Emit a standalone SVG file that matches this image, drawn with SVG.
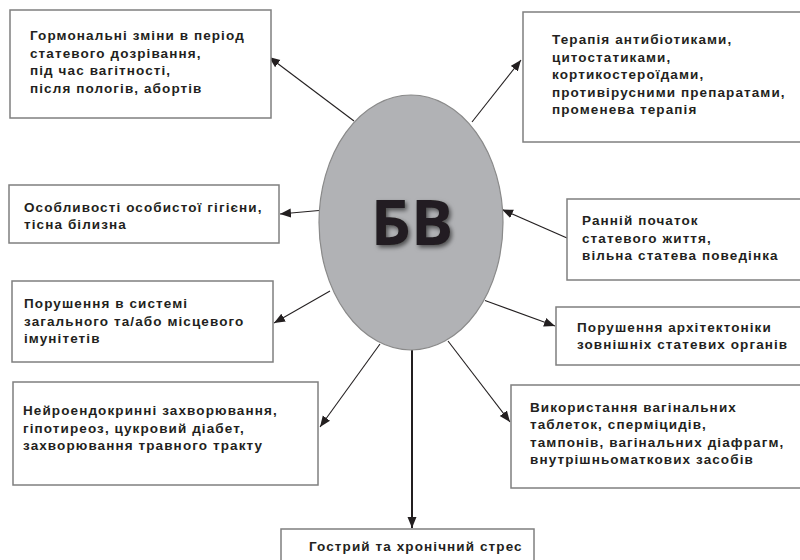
<svg xmlns="http://www.w3.org/2000/svg" width="800" height="560" viewBox="0 0 800 560">
<defs>
<style>
.box{fill:#fff;stroke:#7f7f7f;stroke-width:1.5}
.t{font-family:"Liberation Sans",Arial,sans-serif;font-weight:bold;font-size:13.5px;letter-spacing:1.1px;fill:#231f20}
.c{stroke:#231f20;stroke-width:1.1;fill:none;marker-end:url(#ah)}
</style>
<marker id="ah" markerUnits="userSpaceOnUse" markerWidth="12" markerHeight="10" refX="11" refY="4.5" orient="auto">
<path d="M0,0 L11,4.5 L0,9 z" fill="#231f20"/>
</marker>
<filter id="sh" x="-20%" y="-20%" width="150%" height="150%">
<feDropShadow dx="2" dy="2.5" stdDeviation="2" flood-color="#000" flood-opacity="0.55"/>
</filter>
</defs>
<rect width="800" height="560" fill="#fff"/>
<g id="connectors">
<line class="c" x1="354" y1="121" x2="269" y2="57"/>
<line class="c" x1="472" y1="122" x2="521" y2="60"/>
<line class="c" x1="319" y1="210.5" x2="280" y2="214"/>
<line class="c" x1="330" y1="291" x2="274" y2="323"/>
<line class="c" x1="380" y1="344" x2="320" y2="427"/>
<line class="c" x1="412" y1="350" x2="412" y2="528" style="stroke-width:2"/>
<line class="c" x1="567" y1="238" x2="502" y2="209.5"/>
<line class="c" x1="485" y1="300.5" x2="555" y2="326"/>
<line class="c" x1="448" y1="341" x2="510" y2="422"/>
</g>
<g id="center">
<ellipse cx="411" cy="222.5" rx="92" ry="127.5" fill="#b1b2b5" stroke="#8a8a8a" stroke-width="1.2"/>
<text x="412" y="245" text-anchor="middle" font-family="'Open Sans','Noto Sans',sans-serif" font-weight="bold" font-size="63" fill="#231f20" filter="url(#sh)">БВ</text>
</g>
<g id="n1">
<rect class="box" x="10" y="10" width="261" height="108"/>
<text class="t"><tspan x="30" y="40">Гормональні зміни в період</tspan><tspan x="30" y="57.7">статевого дозрівання,</tspan><tspan x="30" y="75.3">під час вагітності,</tspan><tspan x="30" y="93">після пологів, абортів</tspan></text>
</g>
<g id="n2">
<rect class="box" x="523" y="12" width="280" height="130"/>
<text class="t"><tspan x="552" y="44.3">Терапія антибіотиками,</tspan><tspan x="552" y="61.8">цитостатиками,</tspan><tspan x="552" y="79.3">кортикостероїдами,</tspan><tspan x="552" y="96.8">противірусними препаратами,</tspan><tspan x="552" y="114.3">променева терапія</tspan></text>
</g>
<g id="n3">
<rect class="box" x="9" y="185" width="270" height="58"/>
<text class="t"><tspan x="24" y="212">Особливості особистої гігієни,</tspan><tspan x="24" y="229">тісна білизна</tspan></text>
</g>
<g id="n4">
<rect class="box" x="12" y="281" width="261" height="81"/>
<text class="t"><tspan x="24" y="308.3">Порушення в системі</tspan><tspan x="24" y="325.7">загального та/або місцевого</tspan><tspan x="24" y="343">імунітетів</tspan></text>
</g>
<g id="n5">
<rect class="box" x="13" y="382" width="305" height="103"/>
<text class="t"><tspan x="23" y="415">Нейроендокринні захворювання,</tspan><tspan x="23" y="432.7">гіпотиреоз, цукровий діабет,</tspan><tspan x="23" y="450">захворювання травного тракту</tspan></text>
</g>
<g id="n6">
<rect class="box" x="281" y="529" width="253" height="40"/>
<text class="t" x="309" y="551">Гострий та хронічний стрес</text>
</g>
<g id="n7">
<rect class="box" x="567" y="199" width="236" height="81"/>
<text class="t"><tspan x="582" y="225">Ранній початок</tspan><tspan x="582" y="242.7">статевого життя,</tspan><tspan x="582" y="260">вільна статева поведінка</tspan></text>
</g>
<g id="n8">
<rect class="box" x="556" y="307" width="247" height="58"/>
<text class="t"><tspan x="577" y="331.7">Порушення архітектоніки</tspan><tspan x="577" y="349">зовнішніх статевих органів</tspan></text>
</g>
<g id="n9">
<rect class="box" x="511" y="385" width="292" height="103"/>
<text class="t"><tspan x="530" y="411.7">Використання вагінальних</tspan><tspan x="530" y="429.2">таблеток, сперміцидів,</tspan><tspan x="530" y="446.7">тампонів, вагінальних діафрагм,</tspan><tspan x="530" y="464.2">внутрішньоматкових засобів</tspan></text>
</g>
</svg>
